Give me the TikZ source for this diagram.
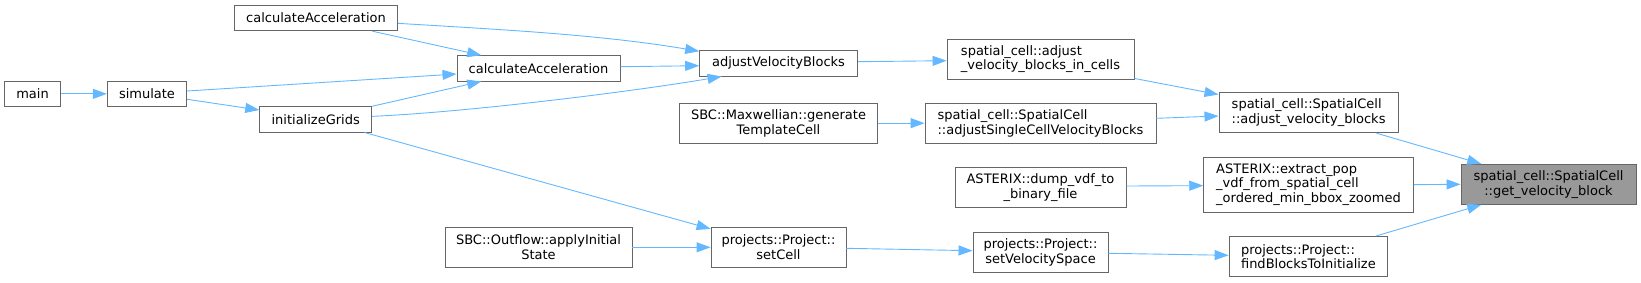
\documentclass[tikz,border=0pt]{standalone}
\usepackage{fontspec}
\setmainfont{DejaVu Sans}
\usetikzlibrary{arrows.meta,calc}
\definecolor{edgecol}{HTML}{63B8FF}
\definecolor{boxcol}{HTML}{666666}
\definecolor{hlfill}{HTML}{999999}
\begin{document}
\begin{tikzpicture}[x=1pt,y=-1pt,
  fn/.style={draw=boxcol,line width=0.9pt,fill=white,inner sep=0pt,
    font=\fontsize{13pt}{14.6pt}\selectfont,text=black},
  hl/.style={fn,fill=hlfill},
  edge/.style={draw=edgecol,line width=0.9pt,-{Triangle[length=14pt,width=10pt]}}]
\useasboundingbox (0,0) rectangle (1641,282);
\node[fn,minimum width=55.6pt,minimum height=25.7pt] (main) at (32.5,93.85) {main};
\node[fn,minimum width=79.4pt,minimum height=25.7pt] (sim) at (147,93.85) {simulate};
\node[fn,minimum width=163.4pt,minimum height=25.7pt] (calcT) at (316,17.85) {calculateAcceleration};
\node[fn,minimum width=112pt,minimum height=25.3pt] (init) at (315.7,119.35) {initializeGrids};
\node[fn,minimum width=163pt,minimum height=25.3pt] (calcM) at (538.5,68.35) {calculateAcceleration};
\node[fn,align=center,minimum width=187pt,minimum height=40pt] (apply) at (538.5,247.3) {SBC::Outflow::applyInitial\\State};
\node[fn,minimum width=157.7pt,minimum height=25.3pt] (adjVB) at (778.5,63.35) {adjustVelocityBlocks};
\node[fn,align=center,minimum width=197.6pt,minimum height=40.3pt] (maxw) at (778.5,123.15) {SBC::Maxwellian::generate\\TemplateCell};
\node[fn,align=center,minimum width=135pt,minimum height=40pt] (setCell) at (778.5,247.3) {projects::Project::\\setCell};
\node[fn,align=left,minimum width=187pt,minimum height=40.3pt] (adjCells) at (1040.5,59.15) {spatial\_cell::adjust\\\_velocity\_blocks\_in\_cells};
\node[fn,align=left,minimum width=231pt,minimum height=40.3pt] (adjSingle) at (1040.5,123.15) {spatial\_cell::SpatialCell\\::adjustSingleCellVelocityBlocks};
\node[fn,align=center,minimum width=171pt,minimum height=40pt] (dump) at (1040.5,187.3) {ASTERIX::dump\_vdf\_to\\\_binary\_file};
\node[fn,align=center,minimum width=135pt,minimum height=40pt] (setVS) at (1040.5,252.7) {projects::Project::\\setVelocitySpace};
\node[fn,align=left,minimum width=179.3pt,minimum height=40.4pt] (adjVel) at (1308.6,112.5) {spatial\_cell::SpatialCell\\::adjust\_velocity\_blocks};
\node[fn,align=left,minimum width=209.6pt,minimum height=54.7pt] (extract) at (1308.5,184.65) {ASTERIX::extract\_pop\\\_vdf\_from\_spatial\_cell\\\_ordered\_min\_bbox\_zoomed};
\node[fn,align=left,minimum width=158.7pt,minimum height=40.4pt] (find) at (1308.4,256.5) {projects::Project::\\findBlocksToInitialize};
\node[hl,align=center,minimum width=175pt,minimum height=40pt] (get) at (1548.5,184.3) {spatial\_cell::SpatialCell\\::get\_velocity\_block};

\draw[edge] (main.east) -- (sim.west);
\draw[edge] ($(sim.east)+(0,-2.85)$) -- ($(calcM.west)+(0,5.65)$);
\draw[edge] ($(sim.east)+(0,5.45)$) -- ($(init.west)+(0,-9.35)$);
\draw[edge] ($(calcT.south east)+(-26,0)$) -- ($(calcM.north west)+(24.7,0)$);
\draw[edge] (init.north east) -- ($(calcM.south west)+(24.7,0)$);
\draw[edge] ($(calcT.east)+(0,5.5)$) .. controls ($(calcT.east)+(102.3,11.7)$) and ($(adjVB.north west)+(-99.3,-15.7)$) .. ($(adjVB.north west)+(0,1)$);
\draw[edge] ($(calcM.east)+(0,-1.65)$) -- ($(adjVB.west)+(0,2.35)$);
\draw[edge] ($(init.east)+(0,-3)$) .. controls ($(init.east)+(98.3,-7.3)$) and ($(adjVB.south west)+(-59.3,14)$) .. ($(adjVB.south west)+(22.4,0)$);
\draw[edge] ($(init.south east)+(-7.7,0)$) -- ($(setCell.north west)+(0,2)$);
\draw[edge] (apply.east) -- (setCell.west);
\draw[edge] ($(adjVB.east)+(0,-1.65)$) -- ($(adjCells.west)+(0,1.55)$);
\draw[edge] (maxw.east) -- (adjSingle.west);
\draw[edge] ($(dump.east)+(0,-1.3)$) -- ($(extract.west)+(0,1)$);
\draw[edge] ($(setCell.east)+(0,1)$) -- ($(setVS.west)+(0,-2)$);
\draw[edge] ($(setVS.east)+(0,0.6)$) -- ($(find.west)+(0,-1.2)$);
\draw[edge] ($(adjCells.south east)+(0,-1.3)$) -- ($(adjVel.north west)+(0,2.7)$);
\draw[edge] ($(adjSingle.east)+(0,-4.85)$) -- ($(adjVel.west)+(0,3.5)$);
\draw[edge] ($(adjVel.south east)+(-22.3,0)$) -- ($(get.north west)+(20.7,0)$);
\draw[edge] (extract.east) -- (get.west);
\draw[edge] ($(find.north east)+(-11.7,0)$) -- ($(get.south west)+(20.7,0)$);
\end{tikzpicture}
\end{document}
